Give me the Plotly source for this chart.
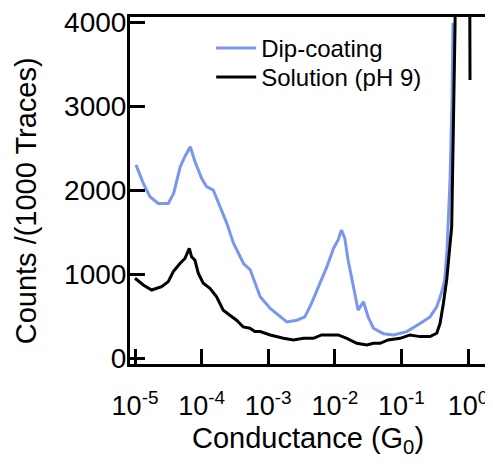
import plotly.graph_objects as go

# Conductance values as log10(G/G0)
dip_logG = [-4.985, -4.875, -4.775, -4.65, -4.5, -4.42, -4.32, -4.25, -4.17, -4.1, -4.0, -3.925,
            -3.825, -3.72, -3.62, -3.52, -3.37, -3.27, -3.12, -2.97, -2.85, -2.72, -2.57, -2.45,
            -2.35, -2.22, -2.12, -2.02, -1.95, -1.9, -1.85, -1.80, -1.72, -1.65, -1.57, -1.5,
            -1.42, -1.27, -1.12, -0.92, -0.72, -0.57, -0.47, -0.40, -0.35, -0.315, -0.27, -0.24, -0.225]
dip_counts = [2300, 2080, 1920, 1840, 1840, 1960, 2280, 2400, 2515, 2340, 2140, 2040,
              2000, 1800, 1600, 1365, 1125, 1050, 730, 590, 510, 430, 450, 490,
              650, 890, 1085, 1305, 1405, 1525, 1425, 1165, 850, 570, 670, 490,
              355, 290, 275, 315, 410, 490, 610, 770, 930, 1285, 2120, 3070, 3990]

sol_logG = [-5.0, -4.875, -4.75, -4.6, -4.5, -4.425, -4.325, -4.25, -4.185, -4.15, -4.1, -4.05,
            -3.975, -3.875, -3.775, -3.675, -3.575, -3.475, -3.375, -3.275, -3.2, -3.12, -2.97,
            -2.77, -2.62, -2.47, -2.32, -2.2, -2.07, -1.95, -1.82, -1.67, -1.52, -1.42, -1.32,
            -1.2, -1.02, -0.87, -0.72, -0.57, -0.47, -0.42, -0.37, -0.32, -0.245, -0.22, -0.195,
            -0.18, 0.02, 0.03]
sol_counts = [950, 870, 810, 850, 910, 1030, 1125, 1185, 1305, 1205, 1165, 1010,
              890, 830, 730, 570, 510, 450, 370, 355, 315, 315, 275,
              235, 215, 235, 235, 275, 275, 275, 235, 175, 155, 175, 175,
              215, 235, 275, 255, 255, 295, 410, 650, 930, 1565, 2950, 3945,
              6000, 6000, 3310]

x_tickvals = [1e-5, 1e-4, 1e-3, 1e-2, 1e-1, 1]
x_ticktext = ["10<sup>-5</sup>", "10<sup>-4</sup>", "10<sup>-3</sup>", "10<sup>-2</sup>",
              "10<sup>-1</sup>", "10<sup>0</sup>"]
y_tickvals = [0, 1000, 2000, 3000, 4000]
y_title = "Counts /(1000 Traces)"
x_title = "Conductance (G<sub>0</sub>)"

dip_G = [10 ** v for v in dip_logG]
sol_G = [10 ** v for v in sol_logG]

fig = go.Figure()
fig.add_trace(go.Scatter(x=dip_G, y=dip_counts, mode="lines", name="Dip-coating",
                         line=dict(color="rgb(122,150,238)", width=3), legend="legend"))
fig.add_trace(go.Scatter(x=sol_G, y=sol_counts, mode="lines", name="Solution (pH 9)",
                         line=dict(color="black", width=3), legend="legend2"))

font = "Liberation Sans, Arial, sans-serif"
leg_common = dict(xanchor="left", yanchor="top", bgcolor="rgba(0,0,0,0)", borderwidth=0,
                  font=dict(size=24, family=font, color="black"), itemwidth=40)
fig.update_layout(
    template="none",
    width=493, height=466,
    margin=dict(l=122, r=15, t=9, b=110, autoexpand=False),
    plot_bgcolor="white", paper_bgcolor="white",
    font=dict(family=font, color="black", size=27),
    showlegend=True,
    legend=dict(x=0.228, y=0.974, **leg_common),
    legend2=dict(x=0.228, y=0.8905, **leg_common),
    annotations=[dict(text=y_title, textangle=-90, xref="paper", yref="paper",
                      x=-0.291, y=0.47, xanchor="center", yanchor="middle", showarrow=False,
                      font=dict(size=29, color="black", family=font))],
)
fig.update_xaxes(type="log", range=[-5.075, 0.27], showgrid=False, zeroline=False, automargin=False,
                 tickvals=x_tickvals, ticktext=x_ticktext, ticks="inside", ticklen=15,
                 tickwidth=2.5, tickcolor="black", showline=True, linecolor="black",
                 linewidth=3, mirror=True, tickfont=dict(size=27, color="black"),
                 ticklabelstandoff=16, ticklabeloverflow="allow",
                 title=dict(text=x_title, font=dict(size=29, color="black"), standoff=8))
fig.update_yaxes(range=[-71, 4060], showgrid=False, zeroline=False, automargin=False,
                 tickvals=y_tickvals, ticks="inside", ticklen=15, tickwidth=2.5,
                 tickcolor="black", showline=True, linecolor="black", linewidth=3,
                 mirror=True, tickfont=dict(size=28, color="black"),
                 ticklabelstandoff=-5, ticklabeloverflow="allow")

fig.write_html("out.html")
